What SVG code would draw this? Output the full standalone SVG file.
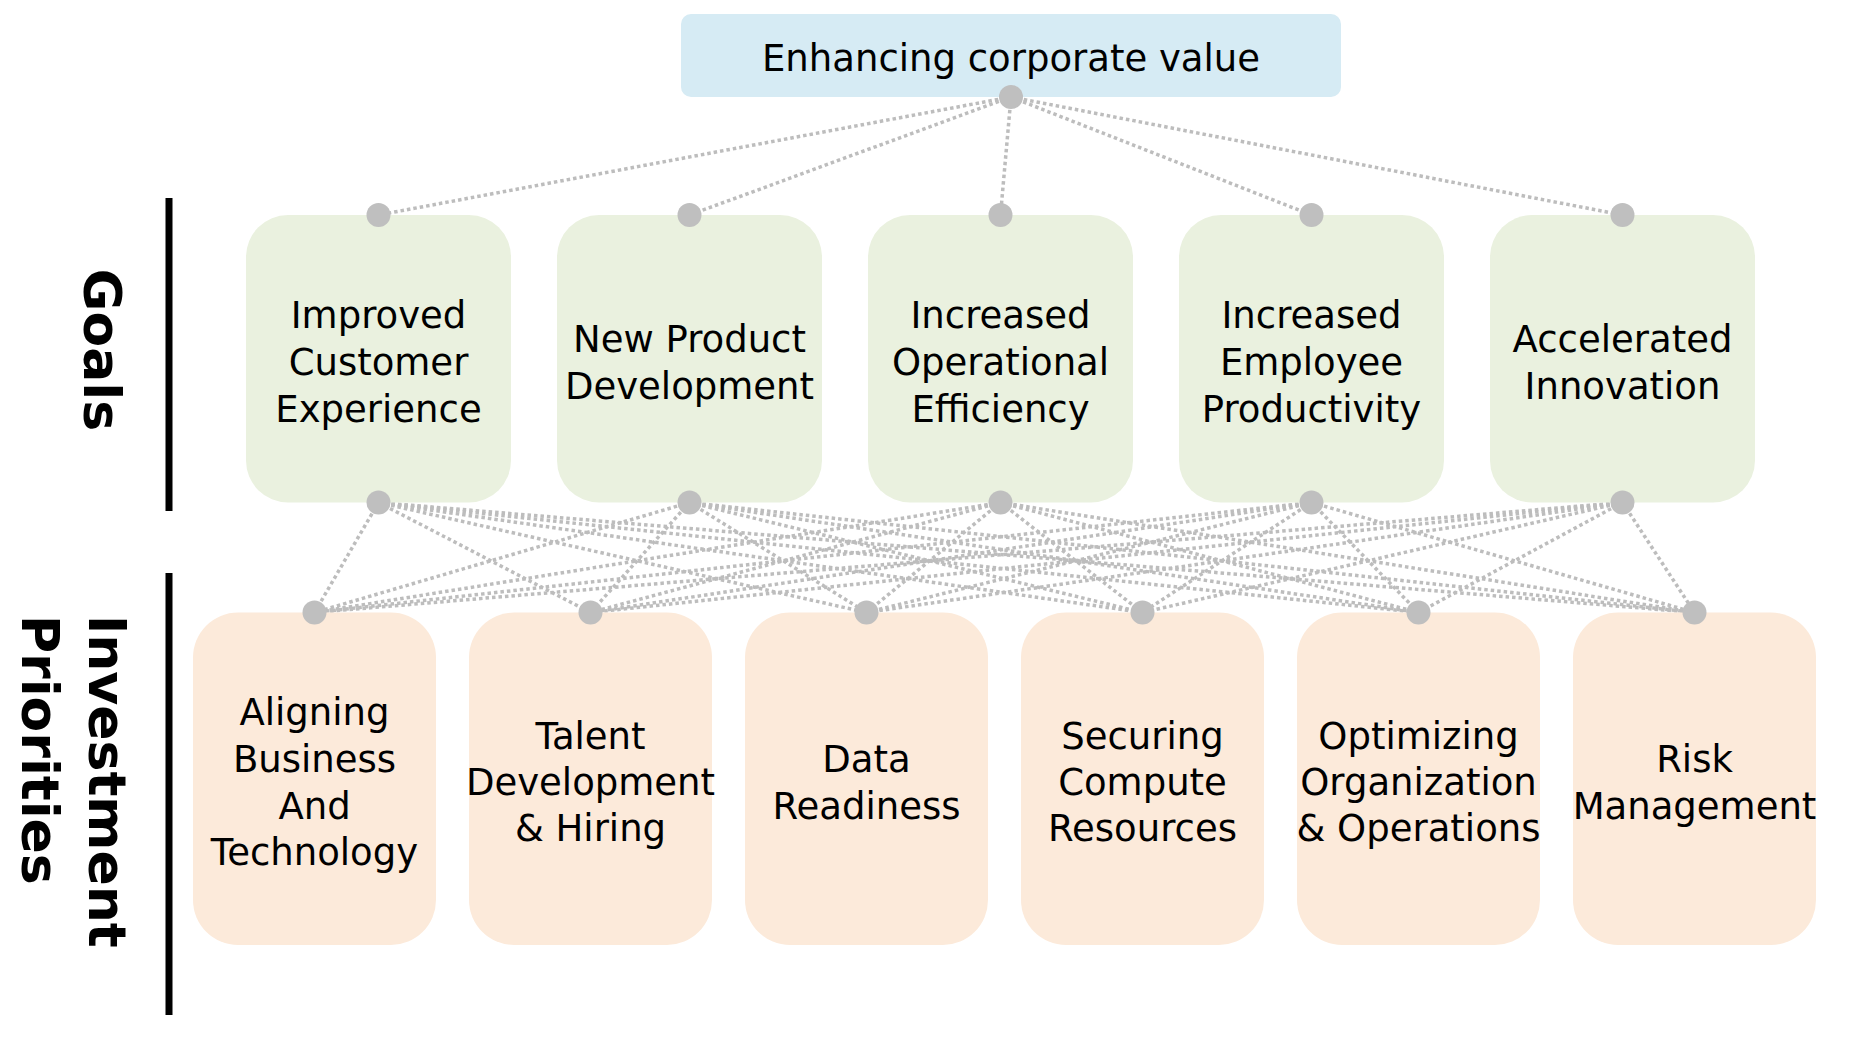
<svg xmlns="http://www.w3.org/2000/svg" width="1854" height="1040" viewBox="0 0 1854 1040">
<style>
.t{font-family:"DejaVu Sans","Verdana",sans-serif;font-size:37px;fill:#000;text-anchor:middle}
.h{font-family:"DejaVu Sans","Verdana",sans-serif;font-size:52px;font-weight:bold;fill:#000}
.c line{stroke:#BDBDBD;stroke-width:3.5;stroke-dasharray:3.5 3;fill:none}
.dot{fill:#BFBFBF}
.top{fill:#D6EBF4}
.goal{fill:#EAF1DF}
.inv{fill:#FCEADA}
.bar{fill:#000}
</style>
<rect width="1854" height="1040" fill="#fff"/>
<g id="labels">
<rect class="bar" x="165.5" y="198" width="7" height="313"/>
<rect class="bar" x="165.5" y="573" width="7" height="442"/>
<text class="h" text-anchor="middle" transform="translate(84,350) rotate(90)">Goals</text>
<text class="h" text-anchor="start" transform="translate(89,615) rotate(90)"><tspan x="0" y="0">Investment</tspan><tspan x="0" y="67">Priorities</tspan></text>
</g>
<g id="connectors" class="c">
<line x1="1011" y1="97" x2="378.5" y2="215"/>
<line x1="1011" y1="97" x2="689.5" y2="215"/>
<line x1="1011" y1="97" x2="1000.5" y2="215"/>
<line x1="1011" y1="97" x2="1311.5" y2="215"/>
<line x1="1011" y1="97" x2="1622.5" y2="215"/>
<line x1="378.5" y1="502.5" x2="314.5" y2="612.5"/>
<line x1="378.5" y1="502.5" x2="590.5" y2="612.5"/>
<line x1="378.5" y1="502.5" x2="866.5" y2="612.5"/>
<line x1="378.5" y1="502.5" x2="1142.5" y2="612.5"/>
<line x1="378.5" y1="502.5" x2="1418.5" y2="612.5"/>
<line x1="378.5" y1="502.5" x2="1694.5" y2="612.5"/>
<line x1="689.5" y1="502.5" x2="314.5" y2="612.5"/>
<line x1="689.5" y1="502.5" x2="590.5" y2="612.5"/>
<line x1="689.5" y1="502.5" x2="866.5" y2="612.5"/>
<line x1="689.5" y1="502.5" x2="1142.5" y2="612.5"/>
<line x1="689.5" y1="502.5" x2="1418.5" y2="612.5"/>
<line x1="689.5" y1="502.5" x2="1694.5" y2="612.5"/>
<line x1="1000.5" y1="502.5" x2="314.5" y2="612.5"/>
<line x1="1000.5" y1="502.5" x2="590.5" y2="612.5"/>
<line x1="1000.5" y1="502.5" x2="866.5" y2="612.5"/>
<line x1="1000.5" y1="502.5" x2="1142.5" y2="612.5"/>
<line x1="1000.5" y1="502.5" x2="1418.5" y2="612.5"/>
<line x1="1000.5" y1="502.5" x2="1694.5" y2="612.5"/>
<line x1="1311.5" y1="502.5" x2="314.5" y2="612.5"/>
<line x1="1311.5" y1="502.5" x2="590.5" y2="612.5"/>
<line x1="1311.5" y1="502.5" x2="866.5" y2="612.5"/>
<line x1="1311.5" y1="502.5" x2="1142.5" y2="612.5"/>
<line x1="1311.5" y1="502.5" x2="1418.5" y2="612.5"/>
<line x1="1311.5" y1="502.5" x2="1694.5" y2="612.5"/>
<line x1="1622.5" y1="502.5" x2="314.5" y2="612.5"/>
<line x1="1622.5" y1="502.5" x2="590.5" y2="612.5"/>
<line x1="1622.5" y1="502.5" x2="866.5" y2="612.5"/>
<line x1="1622.5" y1="502.5" x2="1142.5" y2="612.5"/>
<line x1="1622.5" y1="502.5" x2="1418.5" y2="612.5"/>
<line x1="1622.5" y1="502.5" x2="1694.5" y2="612.5"/>
</g>
<g id="top">
<rect class="top" x="681" y="14" width="660" height="83" rx="10"/>
<text class="t" x="1011" y="71">Enhancing corporate value</text>
<circle class="dot" cx="1011" cy="97" r="12"/>
</g>
<g id="goal1">
<rect class="goal" x="246" y="215" width="265" height="287.5" rx="42"/>
<text class="t"><tspan x="378.5" y="328">Improved</tspan><tspan x="378.5" y="375">Customer</tspan><tspan x="378.5" y="422">Experience</tspan></text>
<circle class="dot" cx="378.5" cy="215" r="12"/><circle class="dot" cx="378.5" cy="502.5" r="12"/>
</g>
<g id="goal2">
<rect class="goal" x="557" y="215" width="265" height="287.5" rx="42"/>
<text class="t"><tspan x="689.5" y="351.5">New Product</tspan><tspan x="689.5" y="398.5">Development</tspan></text>
<circle class="dot" cx="689.5" cy="215" r="12"/><circle class="dot" cx="689.5" cy="502.5" r="12"/>
</g>
<g id="goal3">
<rect class="goal" x="868" y="215" width="265" height="287.5" rx="42"/>
<text class="t"><tspan x="1000.5" y="328">Increased</tspan><tspan x="1000.5" y="375">Operational</tspan><tspan x="1000.5" y="422">Efficiency</tspan></text>
<circle class="dot" cx="1000.5" cy="215" r="12"/><circle class="dot" cx="1000.5" cy="502.5" r="12"/>
</g>
<g id="goal4">
<rect class="goal" x="1179" y="215" width="265" height="287.5" rx="42"/>
<text class="t"><tspan x="1311.5" y="328">Increased</tspan><tspan x="1311.5" y="375">Employee</tspan><tspan x="1311.5" y="422">Productivity</tspan></text>
<circle class="dot" cx="1311.5" cy="215" r="12"/><circle class="dot" cx="1311.5" cy="502.5" r="12"/>
</g>
<g id="goal5">
<rect class="goal" x="1490" y="215" width="265" height="287.5" rx="42"/>
<text class="t"><tspan x="1622.5" y="351.5">Accelerated</tspan><tspan x="1622.5" y="398.5">Innovation</tspan></text>
<circle class="dot" cx="1622.5" cy="215" r="12"/><circle class="dot" cx="1622.5" cy="502.5" r="12"/>
</g>
<g id="inv1">
<rect class="inv" x="193" y="612.5" width="243" height="332.5" rx="45"/>
<text class="t"><tspan x="314.5" y="725">Aligning</tspan><tspan x="314.5" y="772">Business</tspan><tspan x="314.5" y="818.5">And</tspan><tspan x="314.5" y="865">Technology</tspan></text>
<circle class="dot" cx="314.5" cy="612.5" r="12"/>
</g>
<g id="inv2">
<rect class="inv" x="469" y="612.5" width="243" height="332.5" rx="45"/>
<text class="t"><tspan x="590.5" y="748.5">Talent</tspan><tspan x="590.5" y="795">Development</tspan><tspan x="590.5" y="841">&amp; Hiring</tspan></text>
<circle class="dot" cx="590.5" cy="612.5" r="12"/>
</g>
<g id="inv3">
<rect class="inv" x="745" y="612.5" width="243" height="332.5" rx="45"/>
<text class="t"><tspan x="866.5" y="772">Data</tspan><tspan x="866.5" y="818.5">Readiness</tspan></text>
<circle class="dot" cx="866.5" cy="612.5" r="12"/>
</g>
<g id="inv4">
<rect class="inv" x="1021" y="612.5" width="243" height="332.5" rx="45"/>
<text class="t"><tspan x="1142.5" y="748.5">Securing</tspan><tspan x="1142.5" y="795">Compute</tspan><tspan x="1142.5" y="841">Resources</tspan></text>
<circle class="dot" cx="1142.5" cy="612.5" r="12"/>
</g>
<g id="inv5">
<rect class="inv" x="1297" y="612.5" width="243" height="332.5" rx="45"/>
<text class="t"><tspan x="1418.5" y="748.5">Optimizing</tspan><tspan x="1418.5" y="795">Organization</tspan><tspan x="1418.5" y="841">&amp; Operations</tspan></text>
<circle class="dot" cx="1418.5" cy="612.5" r="12"/>
</g>
<g id="inv6">
<rect class="inv" x="1573" y="612.5" width="243" height="332.5" rx="45"/>
<text class="t"><tspan x="1694.5" y="772">Risk</tspan><tspan x="1694.5" y="818.5">Management</tspan></text>
<circle class="dot" cx="1694.5" cy="612.5" r="12"/>
</g>
</svg>
